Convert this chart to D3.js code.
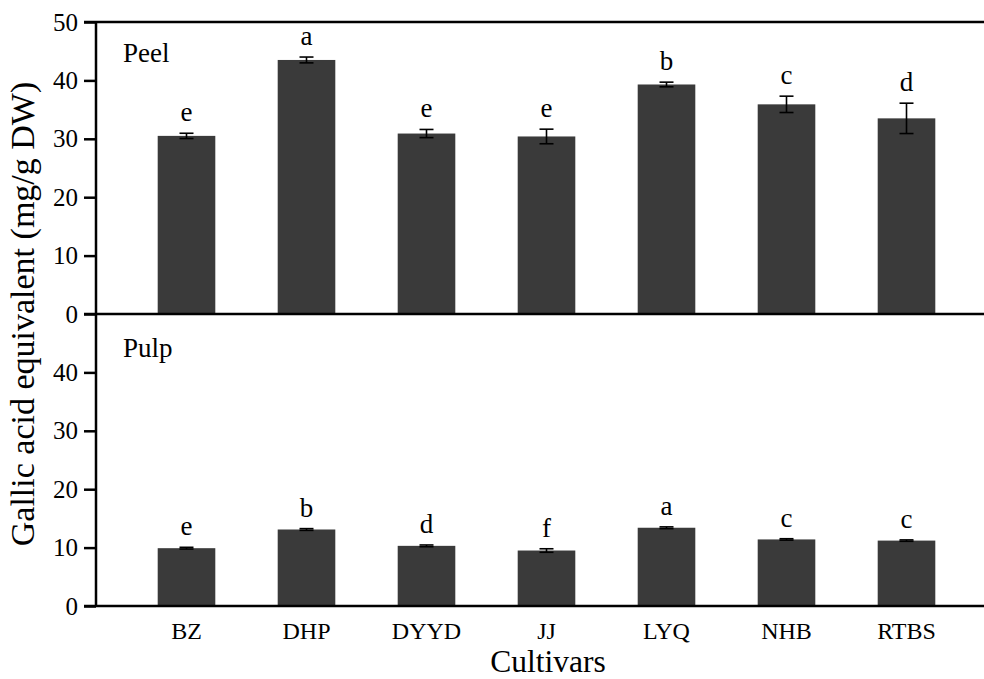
<!DOCTYPE html>
<html>
<head>
<meta charset="utf-8">
<script src="https://cdn.jsdelivr.net/npm/d3@7"></script>
<style>
  body { margin: 0; background: #fff; }
</style>
</head>
<body>
<div id="chart"></div>
<script>
// data
const cultivars = ["BZ", "DHP", "DYYD", "JJ", "LYQ", "NHB", "RTBS"];
const peelMeans = [30.5, 43.5, 30.9, 30.4, 39.3, 35.9, 33.5];
const peelErr = [0.45, 0.5, 0.7, 1.25, 0.4, 1.4, 2.6];
const peelLetters = ["e", "a", "e", "e", "b", "c", "d"];
const pulpMeans = [9.9, 13.1, 10.3, 9.5, 13.4, 11.4, 11.2];
const pulpErr = [0.15, 0.15, 0.15, 0.3, 0.15, 0.12, 0.12];
const pulpLetters = ["e", "b", "d", "f", "a", "c", "c"];
const yTicks = [0, 10, 20, 30, 40, 50];

const WIDTH = 984, HEIGHT = 679;
const AXIS_X = 96, RIGHT = 984;
const BAR_COLOR = "#3a3a3a";
const FONT = '"Liberation Serif"';

const svg = d3.select("#chart").append("svg")
  .attr("width", WIDTH).attr("height", HEIGHT);

const x = d3.scaleBand()
  .domain(cultivars)
  .range([126.5, 966.5])
  .paddingInner(0.52)
  .paddingOuter(0.26);

function drawPanel(top, bottom, means, errs, letters, name, tickVals, nameY) {
  const y = d3.scaleLinear().domain([0, 50]).range([bottom, top]);
  const g = svg.append("g");

  // bars
  g.selectAll("rect.bar")
    .data(cultivars)
    .enter().append("rect")
    .attr("class", "bar")
    .attr("x", d => x(d))
    .attr("y", (d, i) => y(means[i]))
    .attr("width", x.bandwidth())
    .attr("height", (d, i) => y(0) - y(means[i]))
    .attr("fill", BAR_COLOR);

  // error bars
  const cap = 7;
  const eb = g.selectAll("g.err")
    .data(cultivars)
    .enter().append("g")
    .attr("class", "err")
    .attr("stroke", "#000")
    .attr("stroke-width", 1.6);
  eb.append("line")
    .attr("x1", d => x(d) + x.bandwidth() / 2)
    .attr("x2", d => x(d) + x.bandwidth() / 2)
    .attr("y1", (d, i) => y(means[i] - errs[i]))
    .attr("y2", (d, i) => y(means[i] + errs[i]));
  eb.append("line")
    .attr("x1", d => x(d) + x.bandwidth() / 2 - cap)
    .attr("x2", d => x(d) + x.bandwidth() / 2 + cap)
    .attr("y1", (d, i) => y(means[i] + errs[i]))
    .attr("y2", (d, i) => y(means[i] + errs[i]));
  eb.append("line")
    .attr("x1", d => x(d) + x.bandwidth() / 2 - cap)
    .attr("x2", d => x(d) + x.bandwidth() / 2 + cap)
    .attr("y1", (d, i) => y(means[i] - errs[i]))
    .attr("y2", (d, i) => y(means[i] - errs[i]));

  // significance letters
  g.selectAll("text.letter")
    .data(cultivars)
    .enter().append("text")
    .attr("class", "letter")
    .attr("x", d => x(d) + x.bandwidth() / 2)
    .attr("y", (d, i) => y(means[i] + errs[i]) - 12)
    .attr("text-anchor", "middle")
    .style("font-family", FONT)
    .style("font-size", "27px")
    .text((d, i) => letters[i]);

  // y axis
  const yAxis = d3.axisLeft(y).tickValues(tickVals).tickSize(12).tickPadding(6);
  const ag = g.append("g")
    .attr("transform", `translate(${AXIS_X},0)`)
    .call(yAxis);
  ag.select(".domain").remove();
  ag.selectAll(".tick line").attr("stroke", "#000").attr("stroke-width", 2.5);
  ag.selectAll(".tick text")
    .attr("fill", "#000")
    .style("font-family", FONT)
    .style("font-size", "25px");

  g.append("line")
    .attr("x1", AXIS_X).attr("x2", AXIS_X)
    .attr("y1", y(50)).attr("y2", y(0))
    .attr("stroke", "#000").attr("stroke-width", 2.5);
  g.append("line")
    .attr("x1", AXIS_X - 12).attr("x2", RIGHT)
    .attr("y1", y(0)).attr("y2", y(0))
    .attr("stroke", "#000").attr("stroke-width", 2.5);

  g.append("text")
    .attr("x", 123).attr("y", nameY)
    .style("font-family", FONT)
    .style("font-size", "27px")
    .text(name);
  return y;
}

const yTop = drawPanel(22, 314, peelMeans, peelErr, peelLetters, "Peel", yTicks, 62);
// top border of the figure
svg.append("line")
  .attr("x1", AXIS_X - 12).attr("x2", RIGHT)
  .attr("y1", yTop(50)).attr("y2", yTop(50))
  .attr("stroke", "#000").attr("stroke-width", 2.5);

drawPanel(314, 606, pulpMeans, pulpErr, pulpLetters, "Pulp", yTicks.slice(0, 5), 357);

// x axis labels
svg.append("g").selectAll("text")
  .data(cultivars)
  .enter().append("text")
  .attr("x", d => x(d) + x.bandwidth() / 2)
  .attr("y", 639)
  .attr("text-anchor", "middle")
  .style("font-family", FONT)
  .style("font-size", "24px")
  .text(d => d);

svg.append("text")
  .attr("x", 548).attr("y", 672)
  .attr("text-anchor", "middle")
  .style("font-family", FONT)
  .style("font-size", "31.5px")
  .text("Cultivars");

svg.append("text")
  .attr("transform", "translate(34,314) rotate(-90)")
  .attr("text-anchor", "middle")
  .style("font-family", FONT)
  .style("font-size", "34px")
  .text("Gallic acid equivalent (mg/g DW)");
</script>
</body>
</html>
